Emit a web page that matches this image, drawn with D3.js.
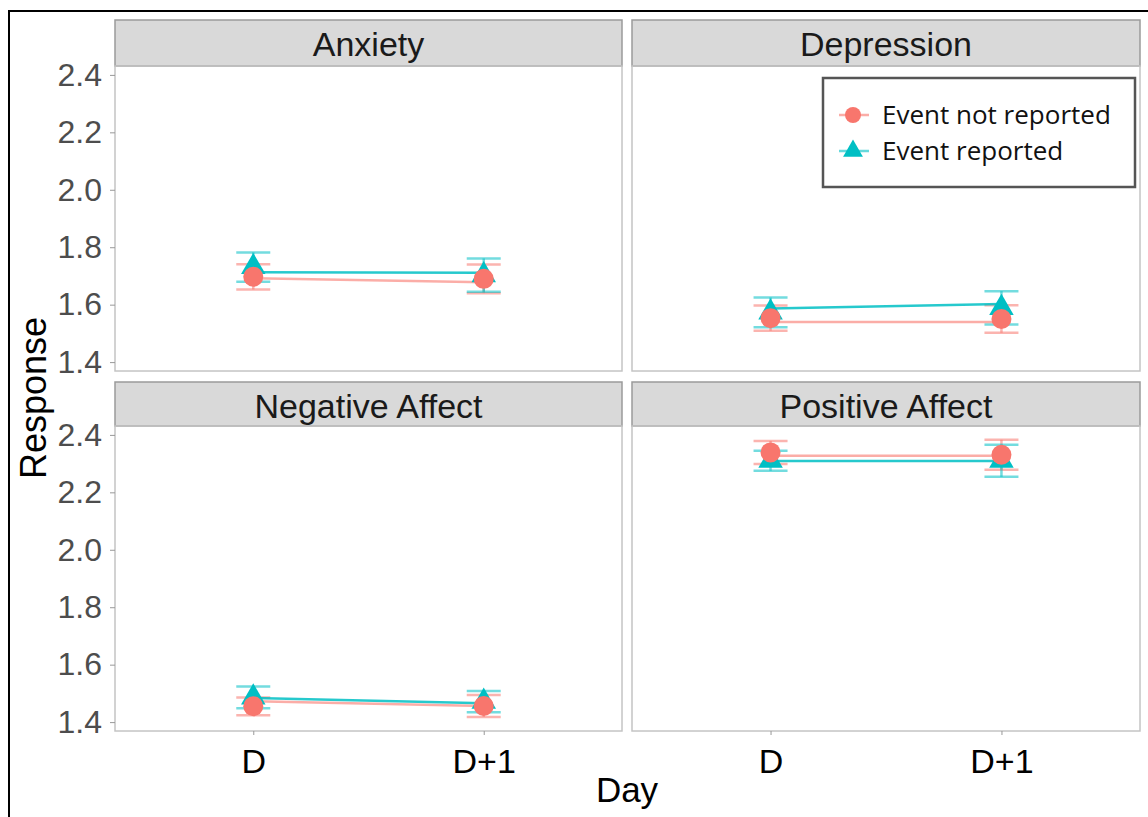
<!DOCTYPE html>
<html>
<head>
<meta charset="utf-8">
<script src="https://cdn.jsdelivr.net/npm/d3@7"></script>
<style>
  body { margin: 0; background: #fff; }
  svg { display: block; font-family: "Liberation Sans", Arial, sans-serif; }
</style>
</head>
<body>
<div id="chart"></div>
<script>
const panels = ["Anxiety", "Depression", "Negative Affect", "Positive Affect"];
const days = ["D", "D+1"];
const groups = ["Event not reported", "Event reported"];
const yTicks = [1.4, 1.6, 1.8, 2.0, 2.2, 2.4];

// observed means and error half-widths, [D, D+1] per panel
const notReportedMean = [[1.697, 1.690], [1.553, 1.550], [1.455, 1.456], [2.339, 2.331]];
const notReportedErr  = [[0.044, 0.050], [0.044, 0.048], [0.031, 0.038], [0.040, 0.052]];
const reportedMean    = [[1.731, 1.703], [1.573, 1.589], [1.486, 1.471], [2.310, 2.310]];
const reportedErr     = [[0.051, 0.058], [0.052, 0.058], [0.038, 0.037], [0.035, 0.056]];
// fitted lines
const notReportedLine = [[1.692, 1.678], [1.540, 1.540], [1.473, 1.456], [2.327, 2.327]];
const reportedLine    = [[1.713, 1.711], [1.587, 1.602], [1.484, 1.466], [2.309, 2.309]];

const red = "#F8766D", teal = "#00BFC4";

const width = 1148, height = 817;
const svg = d3.select("#chart").append("svg")
    .attr("width", width)
    .attr("height", height);

// outer frame (top and left edges are visible)
svg.append("line").attr("x1", 8).attr("x2", width).attr("y1", 11).attr("y2", 11)
    .attr("stroke", "#000").attr("stroke-width", 2);
svg.append("line").attr("x1", 9).attr("x2", 9).attr("y1", 10).attr("y2", height)
    .attr("stroke", "#000").attr("stroke-width", 2);

const cols = [[115, 622], [632, 1140]];
const rows = [[20, 66, 371], [382, 426, 731]];

const series = [
  {name: groups[0], color: red, mean: notReportedMean, err: notReportedErr, line: notReportedLine, shape: "circle"},
  {name: groups[1], color: teal, mean: reportedMean, err: reportedErr, line: reportedLine, shape: "triangle"}
];

const triangle = d3.symbol().type(d3.symbolTriangle).size(260);

panels.forEach((p, i) => {
  const c = cols[i % 2], r = rows[Math.floor(i / 2)];
  const x = d3.scalePoint().domain(days).range([c[0], c[1]]).padding(0.6);
  const y = d3.scaleLinear().domain([1.369, 2.431]).range([r[2], r[1]]);

  // strip
  svg.append("rect")
      .attr("x", c[0]).attr("y", r[0])
      .attr("width", c[1] - c[0]).attr("height", r[1] - r[0])
      .attr("fill", "#D9D9D9").attr("stroke", "#9a9a9a").attr("stroke-width", 1.5);
  svg.append("text")
      .attr("x", (c[0] + c[1]) / 2).attr("y", r[0] + 36)
      .attr("text-anchor", "middle")
      .attr("font-size", 34)
      .attr("fill", "#1a1a1a")
      .text(p);

  // panel border
  svg.append("rect")
      .attr("x", c[0]).attr("y", r[1])
      .attr("width", c[1] - c[0]).attr("height", r[2] - r[1])
      .attr("fill", "none").attr("stroke", "#c4c4c4").attr("stroke-width", 1.5);

  // y axis on left column
  if (i % 2 === 0) {
    const yAxis = svg.append("g")
        .attr("transform", `translate(${c[0]},0)`)
        .call(d3.axisLeft(y).tickValues(yTicks).tickFormat(d3.format(".1f")).tickSize(5).tickPadding(8));
    yAxis.select(".domain").remove();
    yAxis.selectAll(".tick line").attr("stroke", "#999");
    yAxis.selectAll(".tick text")
        .attr("font-size", 32)
        .attr("fill", "#4d4d4d")
        .attr("font-family", "Liberation Sans, Arial, sans-serif");
  }

  // x axis on bottom row
  if (i >= 2) {
    const xAxis = svg.append("g")
        .attr("transform", `translate(0,${r[2]})`)
        .call(d3.axisBottom(x).tickSize(4).tickPadding(14));
    xAxis.select(".domain").remove();
    xAxis.selectAll(".tick line").attr("stroke", "#999");
    xAxis.selectAll(".tick text")
        .attr("font-size", 34)
        .attr("fill", "#000")
        .attr("font-family", "Liberation Sans, Arial, sans-serif");
  }

  const g = svg.append("g");

  // error bars
  series.forEach(s => {
    days.forEach((d, j) => {
      const m = s.mean[i][j], e = s.err[i][j], cx = x(d);
      const bar = g.append("g")
          .attr("stroke", s.color).attr("stroke-opacity", 0.55).attr("stroke-width", 2.5);
      bar.append("line").attr("x1", cx).attr("x2", cx).attr("y1", y(m - e)).attr("y2", y(m + e));
      bar.append("line").attr("x1", cx - 17).attr("x2", cx + 17).attr("y1", y(m - e)).attr("y2", y(m - e));
      bar.append("line").attr("x1", cx - 17).attr("x2", cx + 17).attr("y1", y(m + e)).attr("y2", y(m + e));
    });
  });

  // fitted lines
  series.forEach((s, k) => {
    g.append("path")
        .datum(days.map((d, j) => [x(d), y(s.line[i][j])]))
        .attr("d", d3.line())
        .attr("fill", "none")
        .attr("stroke", s.color)
        .attr("stroke-opacity", k === 0 ? 0.6 : 0.85)
        .attr("stroke-width", 2.5);
  });

  // triangles then circles
  days.forEach((d, j) => {
    g.append("path")
        .attr("d", triangle)
        .attr("transform", `translate(${x(d)},${y(reportedMean[i][j])})`)
        .attr("fill", teal);
  });
  days.forEach((d, j) => {
    g.append("circle")
        .attr("cx", x(d)).attr("cy", y(notReportedMean[i][j]))
        .attr("r", 10)
        .attr("fill", red);
  });
});

// axis titles
svg.append("text")
    .attr("transform", "translate(46,398) rotate(-90)")
    .attr("text-anchor", "middle")
    .attr("font-size", 36)
    .attr("fill", "#000")
    .text("Response");
svg.append("text")
    .attr("x", 627).attr("y", 802)
    .attr("text-anchor", "middle")
    .attr("font-size", 35)
    .attr("fill", "#000")
    .text("Day");

// legend
const legend = svg.append("g").attr("transform", "translate(823,78)");
legend.append("rect")
    .attr("width", 312).attr("height", 109)
    .attr("fill", "#fff").attr("stroke", "#555").attr("stroke-width", 2.5);
series.forEach((s, k) => {
  const ly = 37 + k * 36;
  const row = legend.append("g").attr("transform", `translate(30,${ly})`);
  row.append("line").attr("x1", -14).attr("x2", 16).attr("y1", 0).attr("y2", 0)
      .attr("stroke", s.color).attr("stroke-opacity", 0.6).attr("stroke-width", 2.5);
  if (s.shape === "circle") {
    row.append("circle").attr("r", 8).attr("fill", s.color);
  } else {
    row.append("path").attr("d", d3.symbol().type(d3.symbolTriangle).size(170)).attr("fill", s.color);
  }
  legend.append("text")
      .attr("x", 59).attr("y", ly + 9)
      .attr("font-size", 26)
      .attr("font-family", "Open Sans, sans-serif")
      .attr("fill", "#111")
      .text(s.name);
});
</script>
</body>
</html>
